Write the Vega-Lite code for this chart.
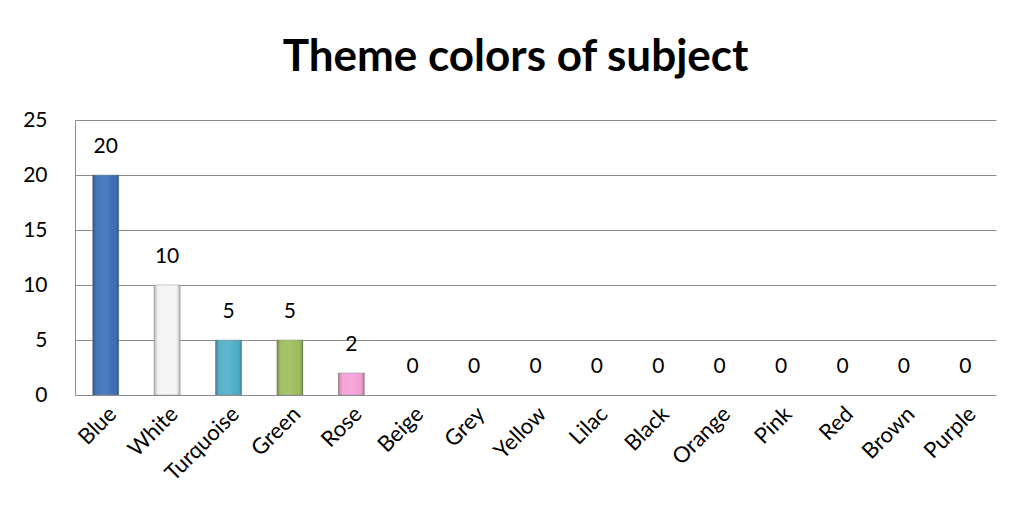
{
  "$schema": "https://vega.github.io/schema/vega-lite/v6.json",
  "width": 921,
  "height": 275,
  "autosize": {"type": "none"},
  "padding": {"left": 75, "top": 120, "right": 18, "bottom": 126},
  "background": "white",
  "config": {"view": {"stroke": null}},
  "title": {
    "text": "Theme colors of subject",
    "font": "Lato",
    "fontSize": 44,
    "fontWeight": "bold",
    "color": "#000000",
    "anchor": "middle",
    "frame": "group",
    "dx": -20,
    "baseline": "alphabetic",
    "offset": -6
  },
  "data": {
    "values": [
      {"color": "Blue", "count": 20, "fill": "#3068b4"},
      {"color": "White", "count": 10, "fill": "#f4f4f4"},
      {"color": "Turquoise", "count": 5, "fill": "#46a9c4"},
      {"color": "Green", "count": 5, "fill": "#98b955"},
      {"color": "Rose", "count": 2, "fill": "#f49bd3"},
      {"color": "Beige", "count": 0, "fill": "#e8dcc0"},
      {"color": "Grey", "count": 0, "fill": "#999999"},
      {"color": "Yellow", "count": 0, "fill": "#f2d54a"},
      {"color": "Lilac", "count": 0, "fill": "#b79fd8"},
      {"color": "Black", "count": 0, "fill": "#222222"},
      {"color": "Orange", "count": 0, "fill": "#f29a3b"},
      {"color": "Pink", "count": 0, "fill": "#f5a3c7"},
      {"color": "Red", "count": 0, "fill": "#d33a3a"},
      {"color": "Brown", "count": 0, "fill": "#8a5a34"},
      {"color": "Purple", "count": 0, "fill": "#7c4ca8"}
    ]
  },
  "encoding": {
    "x": {
      "field": "color",
      "type": "nominal",
      "sort": null,
      "scale": {"paddingInner": 0, "paddingOuter": 0},
      "axis": {
        "title": null,
        "labelAngle": -45,
        "labelFont": "Lato",
        "labelFontSize": 22,
        "labelColor": "#000000",
        "labelPadding": 8,
        "ticks": false,
        "domain": false
      }
    },
    "y": {
      "field": "count",
      "type": "quantitative",
      "scale": {"domain": [0, 25], "nice": false},
      "axis": {
        "title": null,
        "values": [0, 5, 10, 15, 20, 25],
        "labelFont": "Lato",
        "labelFontSize": 21,
        "labelColor": "#000000",
        "labelPadding": 28,
        "ticks": false,
        "domain": true,
        "domainColor": "#8c8c8c",
        "grid": true,
        "gridColor": "#8c8c8c",
        "gridWidth": 1
      }
    }
  },
  "layer": [
    {
      "transform": [{"filter": "datum.count > 0"}],
      "layer": [
        {
          "mark": {"type": "bar", "width": 26, "stroke": "#8a8a8a", "strokeOpacity": 0.6, "strokeWidth": 0.8},
          "encoding": {
            "color": {"field": "fill", "type": "nominal", "scale": null, "legend": null}
          }
        },
        {
          "mark": {
            "type": "bar",
            "width": 26,
            "fill": {
              "gradient": "linear",
              "x1": 0, "y1": 0, "x2": 1, "y2": 0,
              "stops": [
                {"offset": 0, "color": "rgba(0,0,0,0.28)"},
                {"offset": 0.18, "color": "rgba(255,255,255,0.1)"},
                {"offset": 0.5, "color": "rgba(255,255,255,0.14)"},
                {"offset": 0.82, "color": "rgba(255,255,255,0.03)"},
                {"offset": 1, "color": "rgba(0,0,0,0.3)"}
              ]
            }
          }
        }
      ]
    },
    {
      "mark": {
        "type": "text",
        "font": "Lato",
        "fontSize": 21,
        "color": "#000000",
        "baseline": "middle",
        "dy": -28
      },
      "encoding": {
        "text": {"field": "count", "type": "quantitative"}
      }
    }
  ]
}
